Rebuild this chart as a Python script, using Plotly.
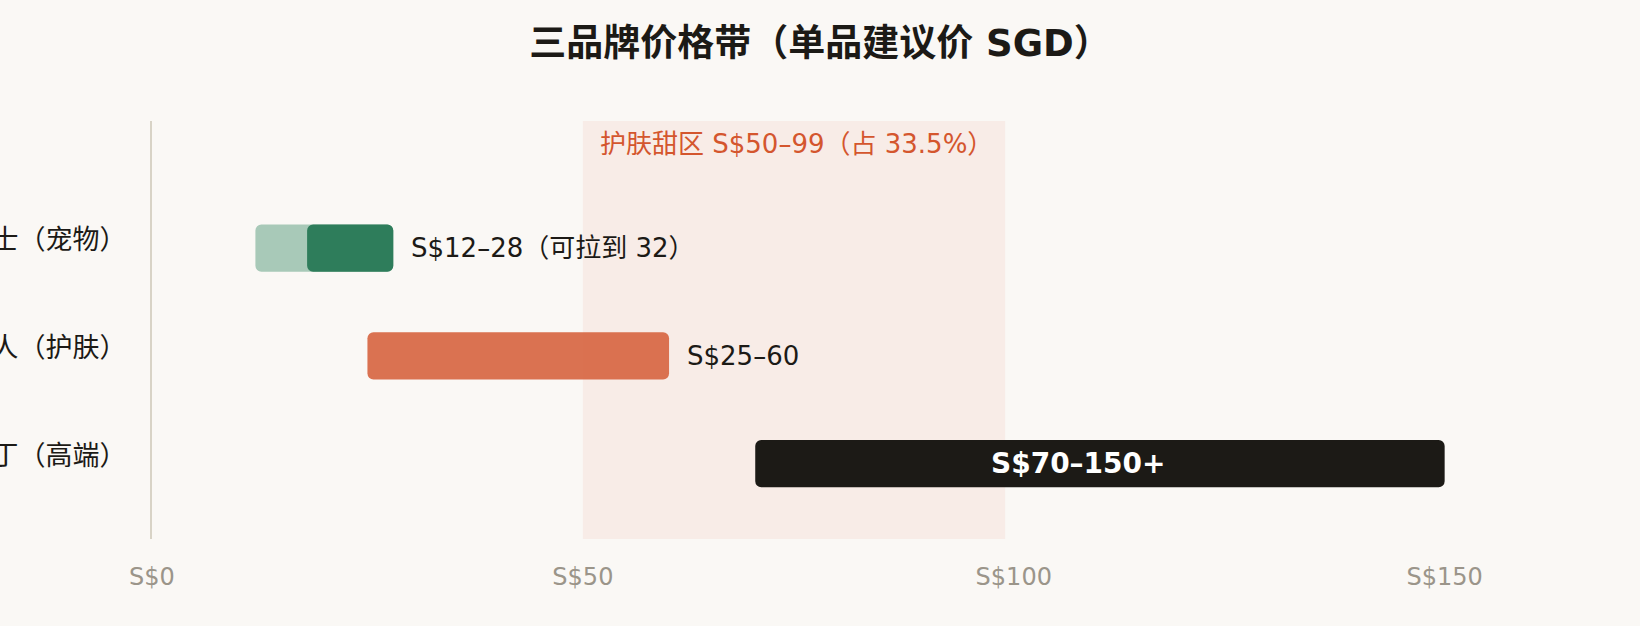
import plotly.graph_objects as go

# ---- data ----
brands = ["毛孩博士（宠物）", "素颜美人（护肤）", "雅丁（高端）"]
stretch_lo = [12, None, None]
stretch_hi = [28, None, None]
core_lo = [18, 25, 70]
core_hi = [28, 60, 150]
labels = ["S$12–28（可拉到 32）", "S$25–60", "S$70–150+"]
sweet_lo, sweet_hi = 50, 99
sweet_text = "护肤甜区 S$50–99（占 33.5%）"
xticks = [0, 50, 100, 150]
xtick_text = ["S$0", "S$50", "S$100", "S$150"]

FONT = "DejaVu Sans, Noto Sans CJK SC, sans-serif"
BG = "#FAF8F5"
INK = "#1C1A16"
colors = ["#2E7D5B", "#D86A48", "#1C1A16"]

ypos = list(range(len(brands)))

fig = go.Figure()

# light "stretch" bar (pet brand)
fig.add_trace(go.Bar(
    orientation="h", y=[ypos[0]], base=[stretch_lo[0]],
    x=[stretch_hi[0] - stretch_lo[0]],
    marker=dict(color="#A8C9B8", line=dict(width=0)),
    width=0.438, hoverinfo="skip", showlegend=False))

# core bars
for i in ypos:
    fig.add_trace(go.Bar(
        orientation="h", y=[i], base=[core_lo[i]], x=[core_hi[i] - core_lo[i]],
        marker=dict(color=colors[i], line=dict(width=0)),
        opacity=0.95 if i == 1 else 1.0,
        width=0.438, hoverinfo="skip", showlegend=False))

# sweet zone band
fig.add_shape(type="rect", xref="x", yref="paper", x0=sweet_lo, x1=sweet_hi,
              y0=0, y1=1, fillcolor="#F8ECE7", line=dict(width=0), layer="below")
fig.add_annotation(xref="x", yref="paper", x=sweet_lo, y=1, xanchor="left",
                   yanchor="top", xshift=15, yshift=-6, text=sweet_text, showarrow=False,
                   font=dict(family=FONT, size=26, color="#D4562E"))

# bar labels
for i in ypos:
    if i < 2:
        fig.add_annotation(xref="x", yref="y", x=core_hi[i], y=i, xanchor="left",
                           xshift=16, text=labels[i], showarrow=False,
                           font=dict(family=FONT, size=26, color=INK))
    else:
        fig.add_annotation(xref="x", yref="y", x=(core_lo[i] + core_hi[i]) / 2, y=i,
                           xanchor="center", xshift=-21, text="<b>" + labels[i] + "</b>",
                           showarrow=False,
                           font=dict(family=FONT, size=28, color="#FFFFFF"))

fig.update_layout(
    width=1640, height=626,
    paper_bgcolor=BG, plot_bgcolor=BG,
    barmode="overlay", barcornerradius=6,
    margin=dict(l=152, r=23, t=121, b=87, autoexpand=False),
    title=dict(text="<b>三品牌价格带（单品建议价 SGD）</b>", x=0.5, xanchor="center",
               y=1 - 43 / 626, yanchor="middle", yref="container",
               font=dict(family=FONT, size=37, color=INK)),
    xaxis=dict(range=[0, 170], tickvals=xticks, ticktext=xtick_text,
               showgrid=False, zeroline=False, showline=False,
               ticks="outside", ticklen=0, ticklabelstandoff=16,
               tickfont=dict(family=FONT, size=24, color="#9B958A"),
               automargin=False, fixedrange=True),
    yaxis=dict(range=[2.698, -1.178], tickvals=ypos, ticktext=brands,
               showgrid=False, zeroline=False, showline=True,
               linecolor="#D8D3C6", linewidth=2,
               ticks="outside", ticklen=0, ticklabelstandoff=18,
               ticklabelshift=8,
               tickfont=dict(family=FONT, size=27, color=INK),
               automargin=False, fixedrange=True),
    font=dict(family=FONT),
)

fig.write_html("out.html", config={"displayModeBar": False})
